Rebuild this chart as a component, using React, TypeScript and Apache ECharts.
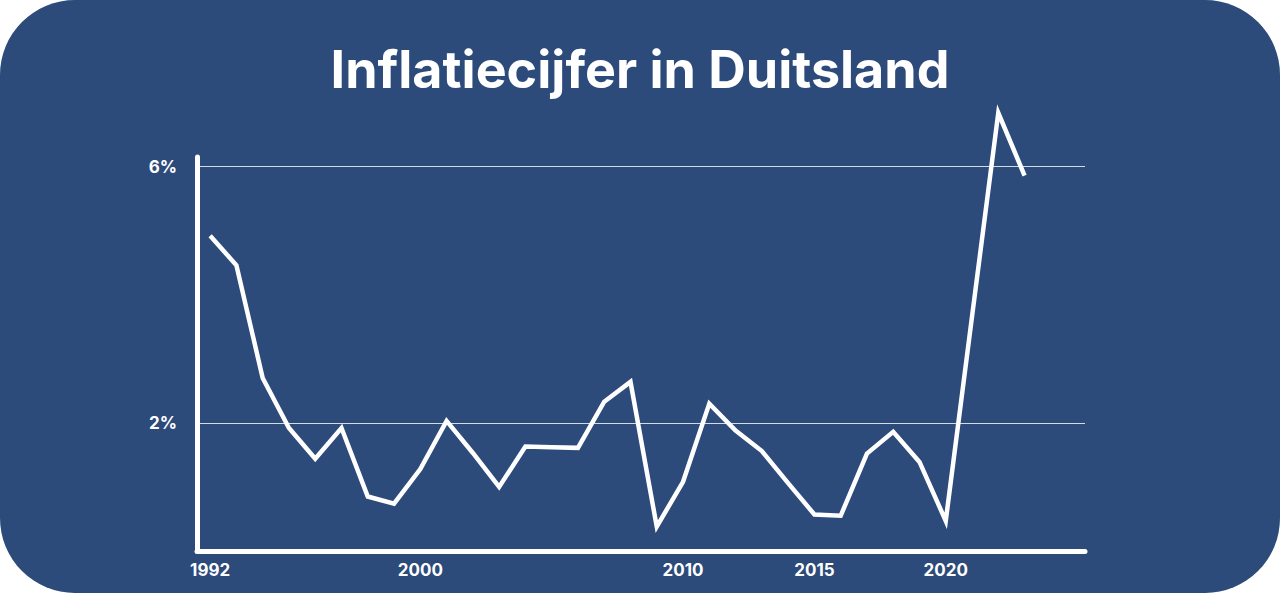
import React, { useEffect, useRef } from "react";
import * as echarts from "echarts";

const years = [
  1992, 1993, 1994, 1995, 1996, 1997, 1998, 1999, 2000, 2001, 2002, 2003,
  2004, 2005, 2006, 2007, 2008, 2009, 2010, 2011, 2012, 2013, 2014, 2015,
  2016, 2017, 2018, 2019, 2020, 2021, 2022, 2023,
];
const inflation = [
  4.92, 4.46, 2.7, 1.92, 1.44, 1.92, 0.85, 0.74, 1.28, 2.03, 1.53, 1.0,
  1.63, 1.62, 1.61, 2.33, 2.64, 0.38, 1.08, 2.3, 1.88, 1.56, 1.06, 0.57,
  0.55, 1.52, 1.86, 1.39, 0.47, 3.66, 6.84, 5.86,
];
const xTickYears = [1992, 2000, 2010, 2015, 2020];
const yLabelValues = [2, 6];
const titleText = "Inflatiecijfer in Duitsland";

const FONT = "Inter, 'Open Sans', 'Noto Sans', sans-serif";
const BG = "#2c4a7a";

export default function App() {
  const ref = useRef<HTMLDivElement>(null);

  useEffect(() => {
    document.body.style.margin = "0";
    if (!ref.current) return;
    const chart = echarts.init(ref.current, undefined, { renderer: "svg" });
    chart.setOption({
      animation: false,
      backgroundColor: "transparent",
      title: {
        text: titleText,
        left: "center",
        top: 38,
        textStyle: {
          color: "#ffffff",
          fontFamily: FONT,
          fontWeight: 700,
          fontSize: 52,
        },
      },
      grid: { left: 197, right: 195, top: 157, bottom: 42 },
      xAxis: {
        type: "value",
        min: 1991.5,
        max: 2025.3,
        splitLine: { show: false },
        axisTick: { show: false },
        axisLine: { show: true, lineStyle: { color: "#ffffff", width: 5 } },
        axisLabel: {
          customValues: xTickYears,
          color: "#ffffff",
          fontFamily: FONT,
          fontWeight: 700,
          fontSize: 17,
          margin: 10,
          formatter: (v: number) => String(v),
        },
      },
      yAxis: {
        type: "value",
        min: 0,
        max: 6.15,
        interval: 2,
        axisTick: { show: false },
        axisLine: { show: true, lineStyle: { color: "#ffffff", width: 5 } },
        splitLine: {
          show: true,
          lineStyle: {
            color: ["rgba(0,0,0,0)", "rgba(255,255,255,0.8)"],
            width: 1,
          },
        },
        axisLabel: {
          color: "#ffffff",
          fontFamily: FONT,
          fontWeight: 700,
          fontSize: 17,
          margin: 20,
          formatter: (v: number) => (yLabelValues.includes(v) ? v + "%" : ""),
        },
      },
      series: [
        {
          type: "line",
          data: years.map((y, i) => [y, inflation[i]]),
          clip: false,
          showSymbol: false,
          symbol: "none",
          lineStyle: { color: "#ffffff", width: 4.5, join: "miter" },
          z: 5,
        },
      ],
    });
    return () => chart.dispose();
  }, []);

  return (
    <div style={{ width: 1280, height: 593, background: "#ffffff" }}>
      <div
        ref={ref}
        style={{
          width: 1280,
          height: 593,
          background: BG,
          borderRadius: 75,
          overflow: "hidden",
        }}
      />
    </div>
  );
}
